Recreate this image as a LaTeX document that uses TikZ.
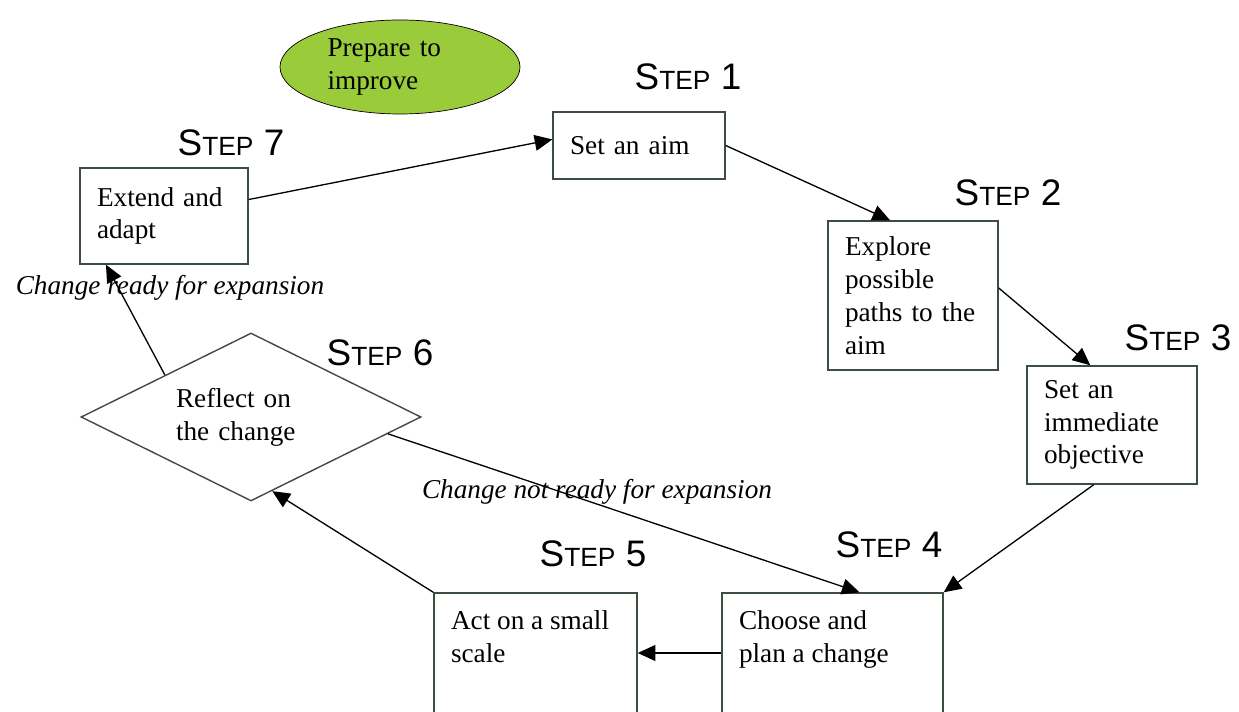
\documentclass[tikz,border=0pt]{standalone}
\usepackage{fontspec}
\setmainfont{Liberation Serif}
\newfontfamily\stepfont{Liberation Sans}
\usetikzlibrary{arrows.meta,shapes.geometric}
\definecolor{boxline}{RGB}{62,78,62}
\definecolor{prepgreen}{RGB}{154,203,58}
\newcommand{\boxfont}{\fontsize{15.5}{18.7}\selectfont}
\newcommand{\steplabel}[1]{{\stepfont\fontsize{21}{21}\selectfont S\fontsize{15}{15}\selectfont TEP\fontsize{21}{21}\selectfont\ #1}}
\tikzset{
  stepbox/.style={draw=boxline, line width=0.8pt, align=left, inner xsep=0.34cm, inner ysep=0pt, font=\boxfont},
  steptitle/.style={inner sep=0pt},
  flow/.style={-{Triangle[length=10pt,width=9pt]}, line width=0.75pt},
  note/.style={font=\boxfont\itshape, inner sep=0pt}
}
\begin{document}
\begin{tikzpicture}
  \useasboundingbox (0,0) rectangle (24.78,14.24);
  \clip (0,0) rectangle (24.78,14.24);
  % the cycle
  \node[ellipse, draw, fill=prepgreen, minimum width=4.8cm, minimum height=1.88cm, inner sep=0pt, text width=2.9cm, align=left, font=\boxfont] (prep) at (8.0,12.9) {Prepare to\\improve};
  \node[stepbox, minimum width=3.44cm, minimum height=1.34cm, text width=2.76cm] (s1) at (12.78,11.33) {Set an aim};
  \node[stepbox, minimum width=3.40cm, minimum height=2.98cm, text width=2.72cm] (s2) at (18.26,8.33) {Explore\\possible\\paths to the\\aim};
  \node[stepbox, minimum width=3.40cm, minimum height=2.36cm, text width=2.72cm] (s3) at (22.24,5.74) {Set an\\immediate\\objective};
  \node[stepbox, minimum height=2.4cm] (s4) at (16.65,1.18) {\parbox[c][1.7cm][t]{3.74cm}{Choose and\\plan a change}};
  \node[stepbox, minimum height=2.4cm] (s5) at (10.71,1.18) {\parbox[c][1.7cm][t]{3.38cm}{Act on a small\\scale}};
  \node[diamond, aspect=2, draw=boxline, line width=0.8pt, inner sep=0pt, minimum width=6.8cm, minimum height=3.36cm, text width=3.0cm, align=left, font=\boxfont] (dia) at (5.02,5.90) {Reflect on\\the change};
  \node[stepbox, minimum width=3.36cm, minimum height=1.92cm, text width=2.68cm] (s7) at (3.28,9.92) {Extend and\\adapt};
  % step titles
  \node[steptitle] (t1) at (13.76,12.70) {\steplabel{1}};
  \node[steptitle] (t2) at (20.16,10.38) {\steplabel{2}};
  \node[steptitle] (t3) at (23.56,7.48) {\steplabel{3}};
  \node[steptitle] (t4) at (17.78,3.34) {\steplabel{4}};
  \node[steptitle] (t5) at (11.86,3.16) {\steplabel{5}};
  \node[steptitle] (t6) at (7.60,7.18) {\steplabel{6}};
  \node[steptitle] (t7) at (4.62,11.38) {\steplabel{7}};
  \node[note] (ready) at (3.40,8.48) {Change ready for expansion};
  \node[note] (notready) at (11.94,4.40) {Change not ready for expansion};
  % arrows
  \draw[flow] (s7.11) -- (s1.176);
  \draw[flow] (s1.east) -- (s2.107);
  \draw[flow] (s2.5) -- (s3.110);
  \draw[flow] (s3.253) -- (s4.north east);
  \draw[flow] (s4.west) -- (s5.east);
  \draw[flow] (s5.north west) -- (dia.286);
  \draw[flow] (dia.154) -- (s7.220);
  \draw[flow] (dia.353) -- (s4.66);
\end{tikzpicture}
\end{document}
